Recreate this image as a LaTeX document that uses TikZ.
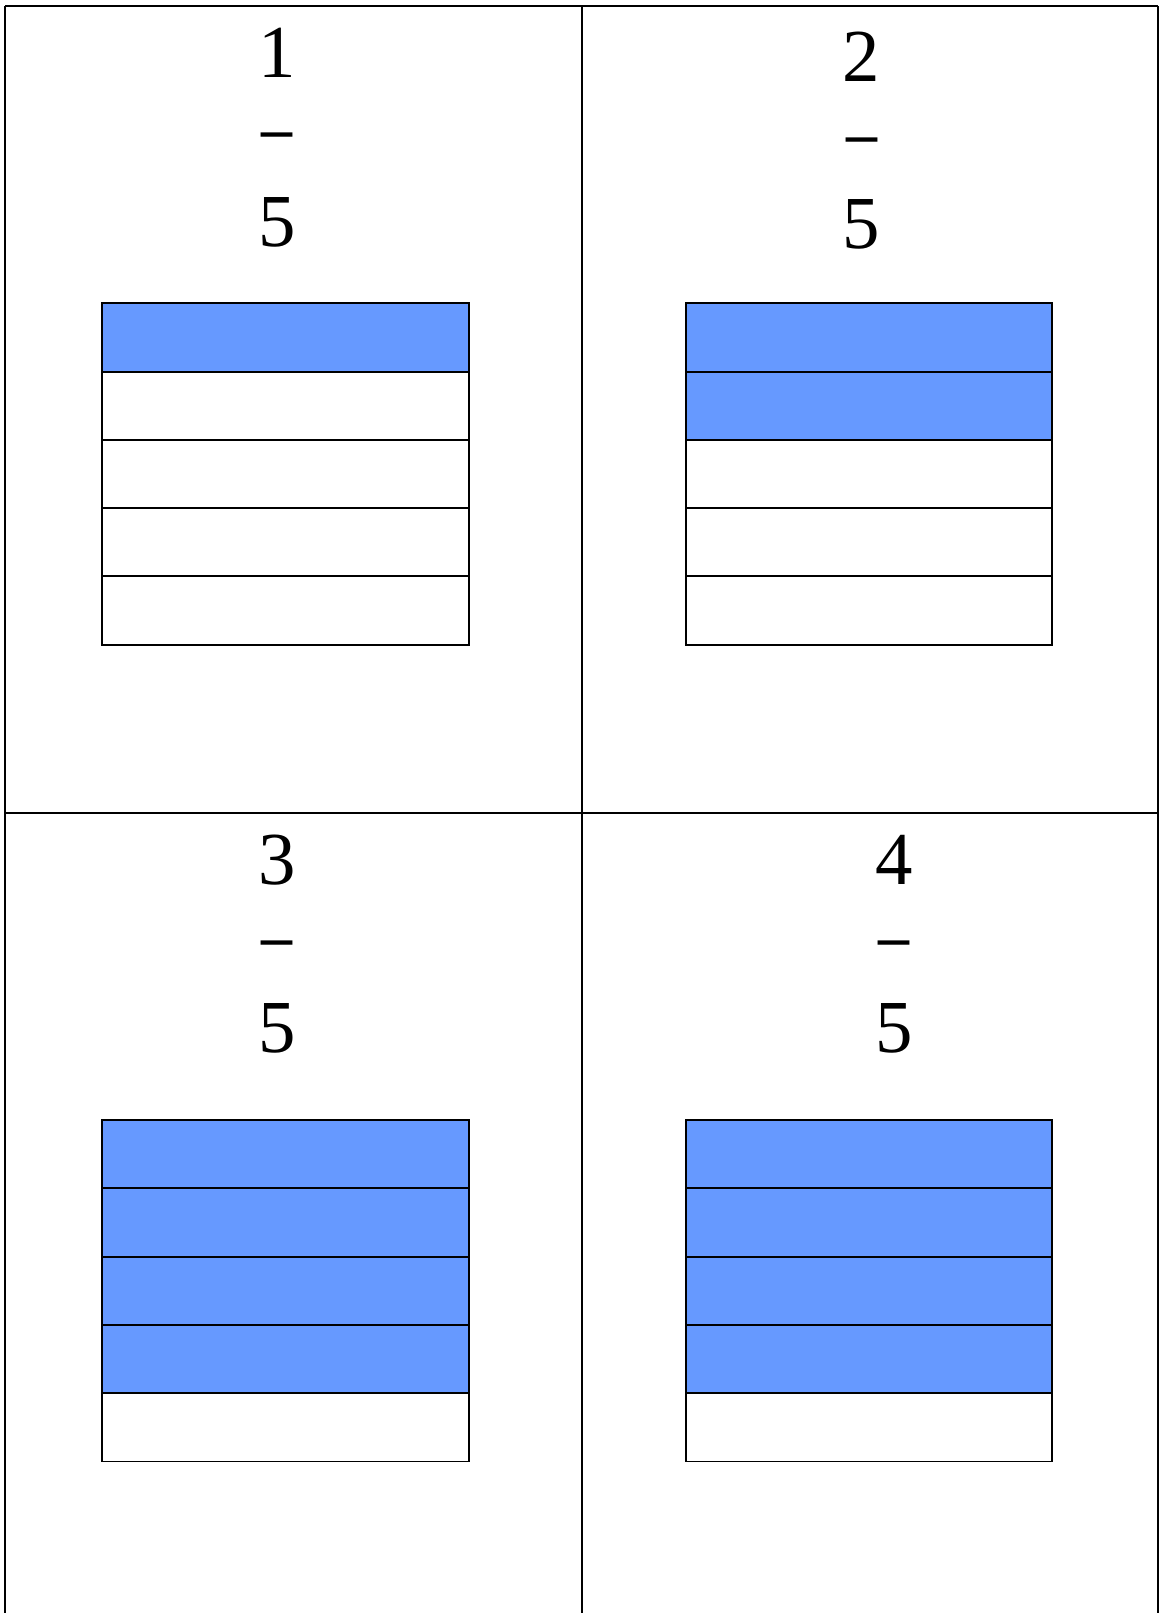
\documentclass[tikz,border=0pt]{standalone}
\usepackage{fontspec}
\setmainfont{Liberation Serif}
\usepackage{tikz}
\usetikzlibrary{positioning}
\usepackage{xcolor}
\definecolor{barblue}{RGB}{102,153,255}

\begin{document}
\begin{tikzpicture}[
  x=0.5pt, y=-0.5pt,
  frame/.style={line width=1pt, black},
  bar/.style={line width=0.95pt, black},
  shade/.style={fill=barblue},
  digit/.style={font=\fontsize{37.4}{40}\selectfont, anchor=base, inner sep=0pt},
  dashmark/.style={font=\fontsize{31}{34}\bfseries\selectfont, anchor=base, inner sep=0pt}
]
  \clip (0,0) rectangle (1159,1613);

  % Panel grid
  \draw[frame] (5,6) -- (1158,6);
  \draw[frame] (5,812.5) -- (1158,812.5);
  \draw[frame] (5,6) -- (5,1630);
  \draw[frame] (582,6) -- (582,1630);
  \draw[frame] (1158,6) -- (1158,1630);

  % Top left: 1/5
  \node[digit] (num1) at (277,77.3) {1};
  \node[dashmark] (line1) at (277,149) {–};
  \node[digit] (den1) at (277,246) {5};
  \fill[shade] (102,303.3) rectangle (468.7,371.6);
  \draw[bar] (102,303.3) rectangle (468.7,644.7);
  \draw[bar] (102,371.6) -- (468.7,371.6) (102,439.9) -- (468.7,439.9)
             (102,508.1) -- (468.7,508.1) (102,576.4) -- (468.7,576.4);

  % Top right: 2/5
  \node[digit] (num2) at (861.5,81) {2};
  \node[dashmark] (line2) at (861.5,154) {–};
  \node[digit] (den2) at (861.5,248) {5};
  \fill[shade] (686,303.3) rectangle (1052.3,439.9);
  \draw[bar] (686,303.3) rectangle (1052.3,644.7);
  \draw[bar] (686,371.6) -- (1052.3,371.6) (686,439.9) -- (1052.3,439.9)
             (686,508.1) -- (1052.3,508.1) (686,576.4) -- (1052.3,576.4);

  % Bottom left: 3/5
  \node[digit] (num3) at (276.7,884) {3};
  \node[dashmark] (line3) at (276.7,957.7) {–};
  \node[digit] (den3) at (276.7,1052) {5};
  \fill[shade] (102,1120) rectangle (468.7,1393.2);
  \draw[bar] (102,1120) rectangle (468.7,1461.5);
  \draw[bar] (102,1188.3) -- (468.7,1188.3) (102,1256.6) -- (468.7,1256.6)
             (102,1324.9) -- (468.7,1324.9) (102,1393.2) -- (468.7,1393.2);

  % Bottom right: 4/5
  \node[digit] (num4) at (894,884) {4};
  \node[dashmark] (line4) at (894,957.7) {–};
  \node[digit] (den4) at (894,1052) {5};
  \fill[shade] (686,1120) rectangle (1052.3,1393.2);
  \draw[bar] (686,1120) rectangle (1052.3,1461.5);
  \draw[bar] (686,1188.3) -- (1052.3,1188.3) (686,1256.6) -- (1052.3,1256.6)
             (686,1324.9) -- (1052.3,1324.9) (686,1393.2) -- (1052.3,1393.2);
\end{tikzpicture}
\end{document}
